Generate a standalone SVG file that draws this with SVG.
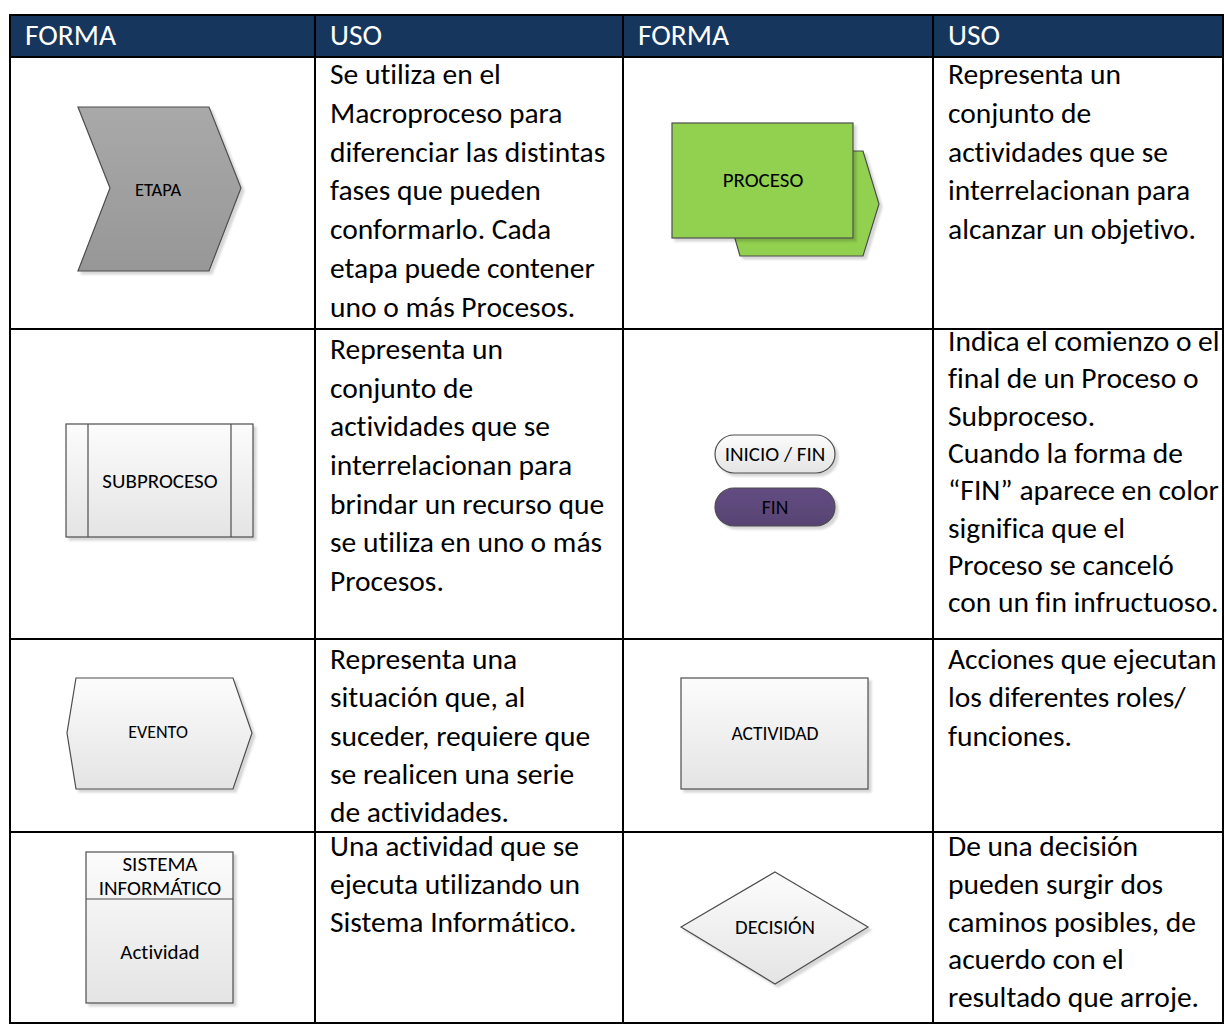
<svg xmlns="http://www.w3.org/2000/svg" width="1224" height="1024" viewBox="0 0 1224 1024">
<defs>
<linearGradient id="gLight" x1="0" y1="0" x2="0" y2="1"><stop offset="0" stop-color="#fcfcfc"/><stop offset="1" stop-color="#e4e4e4"/></linearGradient>
<linearGradient id="gGray" x1="0" y1="0" x2="0" y2="1"><stop offset="0" stop-color="#a9a9a9"/><stop offset="1" stop-color="#979797"/></linearGradient>
<linearGradient id="gPurple" x1="0" y1="0" x2="0" y2="1"><stop offset="0" stop-color="#634d82"/><stop offset="1" stop-color="#574373"/></linearGradient>
<filter id="sh" x="-10%" y="-10%" width="130%" height="130%"><feDropShadow dx="3" dy="3" stdDeviation="1.2" flood-color="#000" flood-opacity="0.16"/></filter>
</defs>
<style>
text{font-variant-ligatures:none}
.t{font-family:Carlito,Lato,"Liberation Sans",sans-serif;font-size:29.5px;fill:#000}
.h{font-family:Carlito,Lato,"Liberation Sans",sans-serif;font-size:29.5px;fill:#fff}
.lb{font-family:Carlito,Lato,"Liberation Sans",sans-serif;font-size:21px;fill:#000;text-anchor:middle}
.sp{stroke:#4d4d4d;stroke-width:1.2}
.grid{stroke:#000;stroke-width:2;fill:none}
</style>
<rect width="1224" height="1024" fill="#fff"/>
<g id="table">
<rect x="10" y="15" width="1213" height="42" fill="#17365d"/>
<g class="grid">
<rect x="10" y="15" width="1213" height="1008"/>
<line x1="10" y1="57" x2="1223" y2="57"/>
<line x1="10" y1="329" x2="1223" y2="329"/>
<line x1="10" y1="639" x2="1223" y2="639"/>
<line x1="10" y1="832" x2="1223" y2="832"/>
<line x1="315" y1="15" x2="315" y2="1023"/>
<line x1="623" y1="15" x2="623" y2="1023"/>
<line x1="933" y1="15" x2="933" y2="1023"/>
</g>
<text class="h" x="25" y="45">FORMA</text>
<text class="h" x="330" y="45">USO</text>
<text class="h" x="638" y="45">FORMA</text>
<text class="h" x="948" y="45">USO</text>
</g>
<g id="etapa">
<polygon points="78,107 209,107 241,188 209,271 78,271 110,188" fill="url(#gGray)" class="sp" filter="url(#sh)"/>
<text class="lb" x="158" y="196" style="font-size:18.5px">ETAPA</text>
</g>
<g id="etapa-uso">
<text class="t"><tspan x="330" y="84">Se utiliza en el</tspan><tspan x="330" y="122.8">Macroproceso para</tspan><tspan x="330" y="161.6">diferenciar las distintas</tspan><tspan x="330" y="200.4">fases que pueden</tspan><tspan x="330" y="239.2">conformarlo. Cada</tspan><tspan x="330" y="278">etapa puede contener</tspan><tspan x="330" y="316.8">uno o más Procesos.</tspan></text>
</g>
<g id="proceso">
<polygon points="722,151 863,151 879,204 863,256 740,256 725,204" fill="#92d050" class="sp" filter="url(#sh)"/>
<rect x="672" y="123" width="181" height="115" fill="#92d050" class="sp" filter="url(#sh)"/>
<text class="lb" x="763" y="187">PROCESO</text>
</g>
<g id="proceso-uso">
<text class="t"><tspan x="948" y="84">Representa un</tspan><tspan x="948" y="122.8">conjunto de</tspan><tspan x="948" y="161.6">actividades que se</tspan><tspan x="948" y="200.4">interrelacionan para</tspan><tspan x="948" y="239.2">alcanzar un objetivo.</tspan></text>
</g>
<g id="subproceso">
<rect x="66" y="424" width="187" height="113" fill="url(#gLight)" class="sp" filter="url(#sh)"/>
<line x1="88" y1="424" x2="88" y2="537" class="sp"/>
<line x1="231" y1="424" x2="231" y2="537" class="sp"/>
<text class="lb" x="160" y="488">SUBPROCESO</text>
</g>
<g id="subproceso-uso">
<text class="t"><tspan x="330" y="359">Representa un</tspan><tspan x="330" y="397.7">conjunto de</tspan><tspan x="330" y="436.3">actividades que se</tspan><tspan x="330" y="475">interrelacionan para</tspan><tspan x="330" y="513.7">brindar un recurso que</tspan><tspan x="330" y="552.3">se utiliza en uno o más</tspan><tspan x="330" y="591">Procesos.</tspan></text>
</g>
<g id="inicio-fin">
<rect x="715" y="435" width="120" height="38" rx="19" fill="url(#gLight)" class="sp" filter="url(#sh)"/>
<text class="lb" x="775" y="461">INICIO / FIN</text>
</g>
<g id="fin">
<rect x="715" y="488" width="120" height="38" rx="19" fill="url(#gPurple)" class="sp" filter="url(#sh)"/>
<text class="lb" x="775" y="514" style="font-size:19.5px">FIN</text>
</g>
<g id="inicio-fin-uso">
<text class="t"><tspan x="948" y="351">Indica el comienzo o el</tspan><tspan x="948" y="388.3">final de un Proceso o</tspan><tspan x="948" y="425.6">Subproceso.</tspan><tspan x="948" y="462.9">Cuando la forma de</tspan><tspan x="948" y="500.2">“FIN” aparece en color</tspan><tspan x="948" y="537.5">significa que el</tspan><tspan x="948" y="574.8">Proceso se canceló</tspan><tspan x="948" y="612.1">con un fin infructuoso.</tspan></text>
</g>
<g id="evento">
<polygon points="76,678 233,678 252,733 233,789 76,789 67,733" fill="url(#gLight)" class="sp" filter="url(#sh)"/>
<text class="lb" x="158" y="738" style="font-size:18px">EVENTO</text>
</g>
<g id="evento-uso">
<text class="t"><tspan x="330" y="669">Representa una</tspan><tspan x="330" y="707.3">situación que, al</tspan><tspan x="330" y="745.6">suceder, requiere que</tspan><tspan x="330" y="783.9">se realicen una serie</tspan><tspan x="330" y="822.2">de actividades.</tspan></text>
</g>
<g id="actividad">
<rect x="681" y="678" width="187" height="111" fill="url(#gLight)" class="sp" filter="url(#sh)"/>
<text class="lb" x="775" y="740" style="font-size:19.5px">ACTIVIDAD</text>
</g>
<g id="actividad-uso">
<text class="t"><tspan x="948" y="669">Acciones que ejecutan</tspan><tspan x="948" y="707.3">los diferentes roles/</tspan><tspan x="948" y="745.6">funciones.</tspan></text>
</g>
<g id="sistema">
<rect x="86" y="852" width="147" height="151" fill="url(#gLight)" class="sp" filter="url(#sh)"/>
<line x1="86" y1="899" x2="233" y2="899" class="sp"/>
<text class="lb" x="160" y="871">SISTEMA</text>
<text class="lb" x="160" y="895">INFORMÁTICO</text>
<text class="lb" x="160" y="959">Actividad</text>
</g>
<g id="sistema-uso">
<text class="t"><tspan x="330" y="856">Una actividad que se</tspan><tspan x="330" y="893.8">ejecuta utilizando un</tspan><tspan x="330" y="931.6">Sistema Informático.</tspan></text>
</g>
<g id="decision">
<polygon points="775,872 868,927 775,984 681,927" fill="url(#gLight)" class="sp" filter="url(#sh)"/>
<text class="lb" x="775" y="934" style="font-size:20.5px">DECISIÓN</text>
</g>
<g id="decision-uso">
<text class="t"><tspan x="948" y="856">De una decisión</tspan><tspan x="948" y="893.8">pueden surgir dos</tspan><tspan x="948" y="931.6">caminos posibles, de</tspan><tspan x="948" y="969.4">acuerdo con el</tspan><tspan x="948" y="1007.2">resultado que arroje.</tspan></text>
</g>
<g id="connectors"></g>
</svg>
